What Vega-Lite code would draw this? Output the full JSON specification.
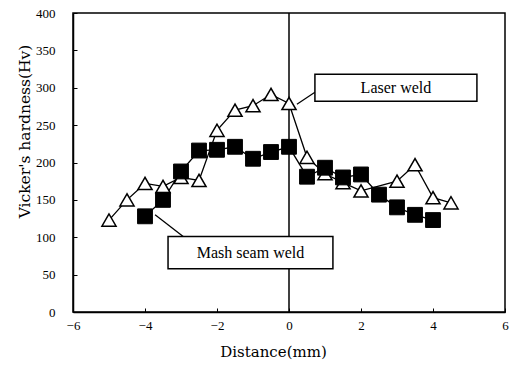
{
  "$schema": "https://vega.github.io/schema/vega-lite/v6.json",
  "width": 432,
  "height": 299,
  "autosize": {"type": "none"},
  "padding": {"left": 73, "top": 13, "right": 5, "bottom": 55},
  "background": "white",
  "config": {
    "view": {"stroke": "black", "strokeWidth": 1.5}
  },
  "datasets": {
    "pts": [
      {"distance": -5, "hardness": 123, "series": "Laser weld"},
      {"distance": -4.5, "hardness": 150, "series": "Laser weld"},
      {"distance": -4, "hardness": 172, "series": "Laser weld"},
      {"distance": -3.5, "hardness": 168, "series": "Laser weld"},
      {"distance": -3, "hardness": 180, "series": "Laser weld"},
      {"distance": -2.5, "hardness": 176, "series": "Laser weld"},
      {"distance": -2, "hardness": 243, "series": "Laser weld"},
      {"distance": -1.5, "hardness": 270, "series": "Laser weld"},
      {"distance": -1, "hardness": 276, "series": "Laser weld"},
      {"distance": -0.5, "hardness": 291, "series": "Laser weld"},
      {"distance": 0, "hardness": 279, "series": "Laser weld"},
      {"distance": 0.5, "hardness": 207, "series": "Laser weld"},
      {"distance": 1, "hardness": 185, "series": "Laser weld"},
      {"distance": 1.5, "hardness": 173, "series": "Laser weld"},
      {"distance": 2, "hardness": 162, "series": "Laser weld"},
      {"distance": 3, "hardness": 175, "series": "Laser weld"},
      {"distance": 3.5, "hardness": 197, "series": "Laser weld"},
      {"distance": 4, "hardness": 153, "series": "Laser weld"},
      {"distance": 4.5, "hardness": 146, "series": "Laser weld"},
      {"distance": -4, "hardness": 128, "series": "Mash seam weld"},
      {"distance": -3.5, "hardness": 150, "series": "Mash seam weld"},
      {"distance": -3, "hardness": 188, "series": "Mash seam weld"},
      {"distance": -2.5, "hardness": 216, "series": "Mash seam weld"},
      {"distance": -2, "hardness": 217, "series": "Mash seam weld"},
      {"distance": -1.5, "hardness": 221, "series": "Mash seam weld"},
      {"distance": -1, "hardness": 205, "series": "Mash seam weld"},
      {"distance": -0.5, "hardness": 214, "series": "Mash seam weld"},
      {"distance": 0, "hardness": 221, "series": "Mash seam weld"},
      {"distance": 0.5, "hardness": 181, "series": "Mash seam weld"},
      {"distance": 1, "hardness": 193, "series": "Mash seam weld"},
      {"distance": 1.5, "hardness": 180, "series": "Mash seam weld"},
      {"distance": 2, "hardness": 184, "series": "Mash seam weld"},
      {"distance": 2.5, "hardness": 157, "series": "Mash seam weld"},
      {"distance": 3, "hardness": 140, "series": "Mash seam weld"},
      {"distance": 3.5, "hardness": 130, "series": "Mash seam weld"},
      {"distance": 4, "hardness": 123, "series": "Mash seam weld"}
    ],
    "boxes": [
      {"label": "Laser weld", "x1": 0.72, "x2": 5.22, "y1": 282, "y2": 318, "tx": 2.97, "ty": 299, "lx1": 0.22, "ly1": 278, "lx2": 0.72, "ly2": 294},
      {"label": "Mash seam weld", "x1": -3.36, "x2": 1.22, "y1": 58, "y2": 101, "tx": -1.07, "ty": 79, "lx1": -3.72, "ly1": 130, "lx2": -2.94, "ly2": 101}
    ]
  },
  "encoding": {
    "x": {"type": "quantitative", "scale": {"domain": [-6, 6], "nice": false},
      "axis": {"values": [-6, -4, -2, 0, 2, 4, 6], "title": "Distance(mm)", "grid": false,
        "domainColor": "black", "domainWidth": 1.5, "tickColor": "black", "tickSize": -4,
        "labelColor": "black", "labelFont": "Liberation Serif", "labelFontSize": 13, "labelPadding": 11, "labelFlush": false, "labelOverlap": false,
        "titleColor": "black", "titleFont": "DejaVu Serif", "titleFontWeight": "normal", "titleFontSize": 15, "titlePadding": 12, "titleX": 200}},
    "y": {"type": "quantitative", "scale": {"domain": [0, 400], "nice": false},
      "axis": {"values": [0, 50, 100, 150, 200, 250, 300, 350, 400], "title": "Vicker's hardness(Hv)", "grid": false,
        "domainColor": "black", "domainWidth": 1.5, "tickColor": "black", "tickSize": -4,
        "labelColor": "black", "labelFont": "Liberation Serif", "labelFontSize": 13, "labelPadding": 22, "labelFlush": false, "labelOverlap": false,
        "titleColor": "black", "titleFont": "DejaVu Serif", "titleFontWeight": "normal", "titleFontSize": 15.5, "titlePadding": 3, "titleY": 118}}
  },
  "layer": [
    {
      "data": {"name": "pts"},
      "mark": {"type": "line", "color": "black", "strokeWidth": 1.3},
      "encoding": {
        "x": {"field": "distance"},
        "y": {"field": "hardness"},
        "detail": {"field": "series"}
      }
    },
    {
      "data": {"values": [{"x": 0}]},
      "mark": {"type": "rule", "color": "black", "strokeWidth": 1.5},
      "encoding": {"x": {"field": "x"}}
    },
    {
      "data": {"name": "pts"},
      "transform": [{"filter": "datum.series === 'Laser weld'"}],
      "mark": {"type": "point", "shape": "triangle-up", "filled": true, "fill": "white", "stroke": "black", "strokeWidth": 1.5, "size": 200, "opacity": 1},
      "encoding": {
        "x": {"field": "distance"},
        "y": {"field": "hardness"}
      }
    },
    {
      "data": {"name": "pts"},
      "transform": [{"filter": "datum.series === 'Mash seam weld'"}],
      "mark": {"type": "point", "shape": "square", "filled": true, "fill": "black", "stroke": "black", "strokeWidth": 1, "size": 220, "opacity": 1},
      "encoding": {
        "x": {"field": "distance"},
        "y": {"field": "hardness"}
      }
    },
    {
      "data": {"name": "boxes"},
      "mark": {"type": "rule", "color": "black", "strokeWidth": 1.3},
      "encoding": {
        "x": {"field": "lx1"},
        "y": {"field": "ly1"},
        "x2": {"field": "lx2"},
        "y2": {"field": "ly2"}
      }
    },
    {
      "data": {"name": "boxes"},
      "mark": {"type": "rect", "fill": "white", "stroke": "black", "strokeWidth": 1.5},
      "encoding": {
        "x": {"field": "x1"},
        "x2": {"field": "x2"},
        "y": {"field": "y1"},
        "y2": {"field": "y2"}
      }
    },
    {
      "data": {"name": "boxes"},
      "mark": {"type": "text", "font": "Liberation Serif", "fontSize": 16, "color": "black", "align": "center", "baseline": "middle"},
      "encoding": {
        "x": {"field": "tx"},
        "y": {"field": "ty"},
        "text": {"field": "label"}
      }
    }
  ]
}
